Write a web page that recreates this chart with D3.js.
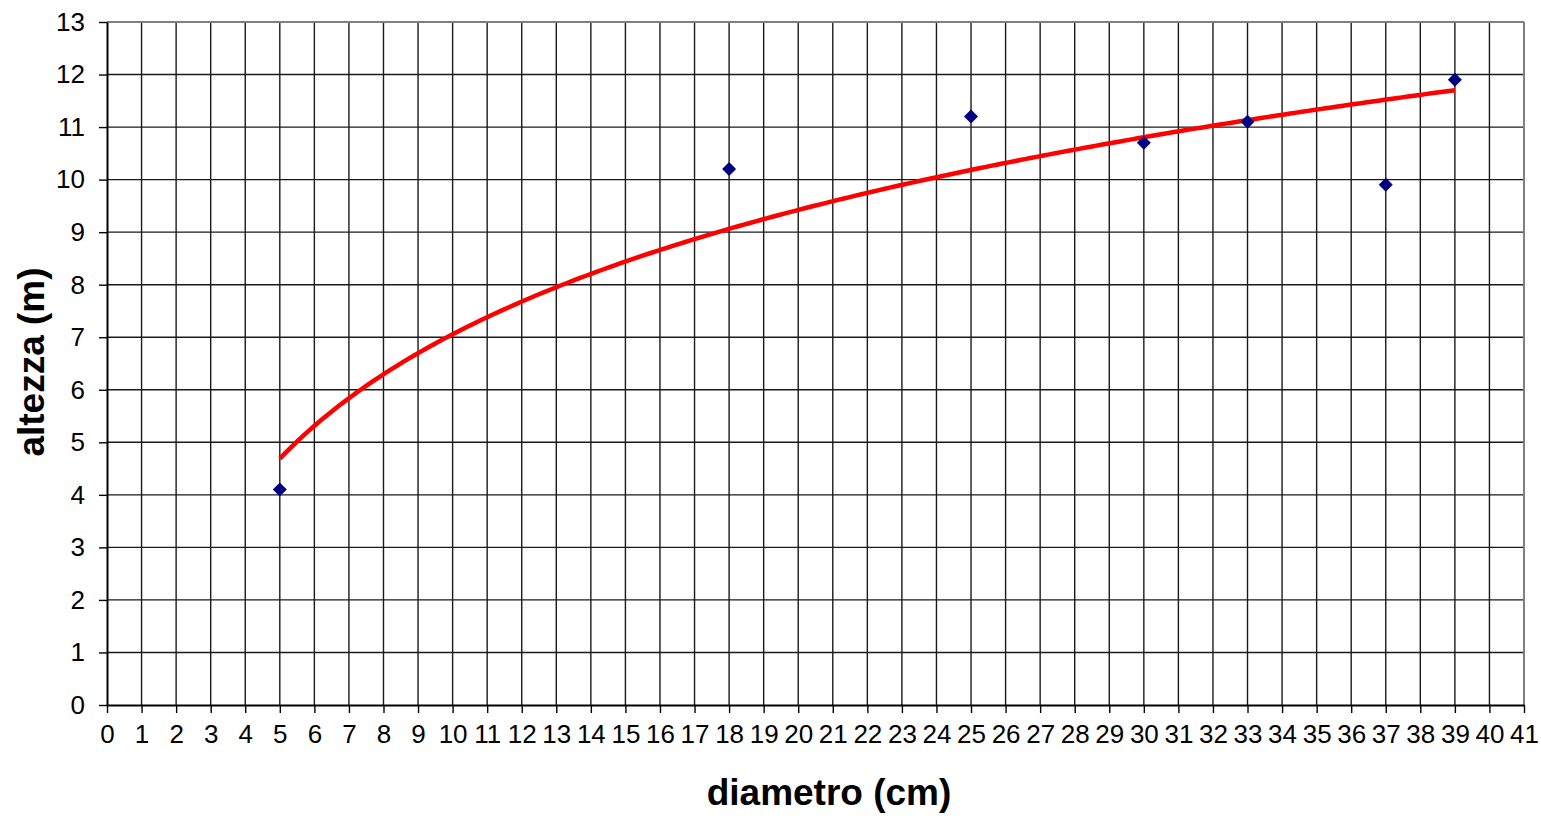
<!DOCTYPE html>
<html><head><meta charset="utf-8">
<script src="https://cdn.jsdelivr.net/npm/d3@7"></script>
<style>
html,body{margin:0;padding:0;background:#fff;}
svg{display:block;}
</style></head>
<body>
<svg id="chart" width="1541" height="816"></svg>
<script>
const diametro = [5, 18, 25, 30, 33, 37, 39];
const altezza = [4.1, 10.2, 11.2, 10.7, 11.1, 9.9, 11.9];
const xTicks = d3.range(0, 42);
const yTicks = d3.range(0, 14);
const xTitle = "diametro (cm)";
const yTitle = "altezza (m)";

const svg = d3.select("#chart");
const L = 107, R = 1524, T = 22, B = 705;
const x = d3.scaleLinear().domain([0, 41]).range([L, R]);
const y = d3.scaleLinear().domain([0, 13]).range([B, T]);

// grid
const g = svg.append("g");
g.selectAll(".vg").data(xTicks.slice(1, -1)).enter().append("line")
  .attr("x1", d => x(d)).attr("x2", d => x(d)).attr("y1", T).attr("y2", B)
  .attr("stroke", "#1a1a1a").attr("stroke-width", 1.4);
g.selectAll(".hg").data(yTicks.slice(1, -1)).enter().append("line")
  .attr("x1", L).attr("x2", R).attr("y1", d => y(d)).attr("y2", d => y(d))
  .attr("stroke", "#1a1a1a").attr("stroke-width", 1.4);
// border top/right grey
svg.append("line").attr("x1", L).attr("x2", R).attr("y1", T).attr("y2", T).attr("stroke", "#808080").attr("stroke-width", 2);
svg.append("line").attr("x1", R).attr("x2", R).attr("y1", T).attr("y2", B).attr("stroke", "#808080").attr("stroke-width", 2);

// axes
const xAxis = svg.append("g").attr("transform", `translate(0,${B})`)
  .call(d3.axisBottom(x).tickValues(xTicks).tickFormat(d3.format("d")).tickSizeOuter(0).tickSizeInner(8).tickPadding(12));
const yAxis = svg.append("g").attr("transform", `translate(${L},0)`)
  .call(d3.axisLeft(y).tickValues(yTicks).tickFormat(d3.format("d")).tickSizeOuter(0).tickSizeInner(8).tickPadding(14));
[xAxis, yAxis].forEach(a => {
  a.select(".domain").attr("stroke", "#000").attr("stroke-width", 2);
  a.selectAll(".tick line").attr("stroke", "#000").attr("stroke-width", 1.4);
  a.selectAll("text").attr("font-family", "Liberation Sans, Arial, sans-serif").attr("font-size", 26).attr("fill", "#000");
});

// logarithmic trend line (least squares fit on ln x)
const lx = diametro.map(Math.log);
const mx = d3.mean(lx), my = d3.mean(altezza);
const a = d3.sum(lx.map((v, i) => (v - mx) * (altezza[i] - my))) / d3.sum(lx.map(v => (v - mx) ** 2));
const b = my - a * mx;
const xmin = d3.min(diametro), xmax = d3.max(diametro);
const trend = d3.range(0, 201).map(i => {
  const xv = xmin + (xmax - xmin) * i / 200;
  return [xv, a * Math.log(xv) + b];
});
svg.append("path").datum(trend)
  .attr("d", d3.line().x(d => x(d[0])).y(d => y(d[1])))
  .attr("fill", "none").attr("stroke", "#ff0000").attr("stroke-width", 4.5);

// points
svg.selectAll(".pt").data(diametro).enter().append("path")
  .attr("transform", (d, i) => `translate(${x(d)},${y(altezza[i])})`)
  .attr("d", "M0,-7L7,0L0,7L-7,0Z")
  .attr("fill", "#000080");

// titles
svg.append("text").attr("x", 829).attr("y", 805).attr("text-anchor", "middle")
  .attr("font-family", "Liberation Sans, Arial, sans-serif").attr("font-weight", "bold").attr("font-size", 37)
  .text(xTitle);
svg.append("text").attr("transform", "translate(44,362) rotate(-90)").attr("text-anchor", "middle")
  .attr("font-family", "Liberation Sans, Arial, sans-serif").attr("font-weight", "bold").attr("font-size", 37)
  .text(yTitle);
</script>
</body></html>
